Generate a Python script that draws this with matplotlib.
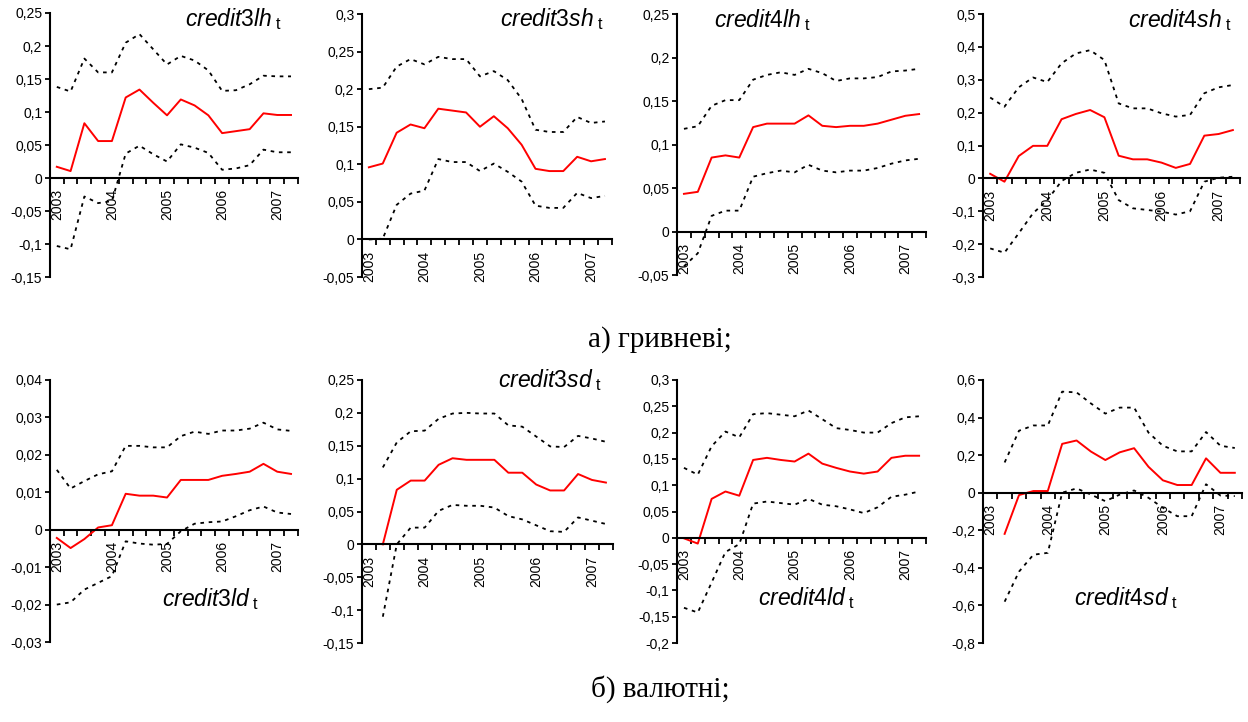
# -*- coding: utf-8 -*-
"""
Impulse responses of credit indicators (hryvnia and foreign currency),
2003Q1 - 2007Q2, red = response, dotted = confidence bands
"""

# %% [1] Import libraries
import numpy as np
import matplotlib.pyplot as plt
import matplotlib.ticker as mticker

plt.rcParams['font.family'] = ['Liberation Sans', 'DejaVu Sans']
plt.rcParams['axes.unicode_minus'] = False
plt.rcParams['mathtext.fontset'] = 'custom'
plt.rcParams['mathtext.it'] = 'Liberation Sans:italic'
plt.rcParams['mathtext.rm'] = 'Liberation Sans'

nan = np.nan

# %% [2] Data (quarterly, 2003Q1 .. 2007Q2)
quarters = [f"{y}Q{q}" for y in range(2003, 2008) for q in range(1, 5)][:18]
year_labels = ['2003', '2004', '2005', '2006', '2007']

# --- гривневі ---
red_3lh = [0.017, 0.0105, 0.083, 0.056, 0.056, 0.122, 0.134, 0.114, 0.095, 0.119, 0.110, 0.095, 0.068, 0.071, 0.074, 0.098, 0.0955, 0.0955]
up_3lh = [0.138, 0.131, 0.181, 0.160, 0.160, 0.205, 0.218, 0.195, 0.172, 0.185, 0.178, 0.163, 0.132, 0.133, 0.142, 0.155, 0.154, 0.154]
lo_3lh = [-0.103, -0.108, -0.028, -0.038, -0.035, 0.037, 0.049, 0.036, 0.025, 0.051, 0.046, 0.038, 0.0125, 0.0145, 0.0195, 0.043, 0.039, 0.039]

red_3sh = [0.096, 0.101, 0.142, 0.153, 0.148, 0.174, 0.1715, 0.169, 0.150, 0.164, 0.148, 0.126, 0.094, 0.091, 0.091, 0.110, 0.104, 0.107]
up_3sh = [0.200, 0.202, 0.230, 0.240, 0.233, 0.243, 0.240, 0.240, 0.217, 0.224, 0.212, 0.187, 0.146, 0.143, 0.143, 0.163, 0.155, 0.157]
lo_3sh = [0.0, 0.001, 0.046, 0.061, 0.065, 0.107, 0.103, 0.103, 0.091, 0.101, 0.090, 0.077, 0.045, 0.042, 0.042, 0.062, 0.055, 0.058]

red_4lh = [0.0433, 0.0456, 0.085, 0.0875, 0.085, 0.120, 0.124, 0.124, 0.124, 0.1335, 0.1215, 0.120, 0.1215, 0.1215, 0.124, 0.1285, 0.133, 0.135]
up_4lh = [0.118, 0.121, 0.1445, 0.151, 0.151, 0.1745, 0.180, 0.183, 0.180, 0.187, 0.182, 0.173, 0.176, 0.176, 0.1775, 0.184, 0.185, 0.187]
lo_4lh = [-0.04, -0.025, 0.018, 0.024, 0.024, 0.063, 0.067, 0.070, 0.068, 0.0767, 0.070, 0.068, 0.070, 0.070, 0.073, 0.078, 0.0817, 0.0836]

red_4sh = [0.014, -0.010, 0.068, 0.099, 0.099, 0.180, 0.196, 0.208, 0.186, 0.069, 0.058, 0.058, 0.048, 0.032, 0.044, 0.130, 0.135, 0.147]
up_4sh = [0.246, 0.218, 0.277, 0.307, 0.293, 0.350, 0.380, 0.390, 0.360, 0.228, 0.213, 0.213, 0.198, 0.188, 0.193, 0.259, 0.277, 0.284]
lo_4sh = [-0.213, -0.226, -0.167, -0.106, -0.066, -0.008, 0.017, 0.027, 0.017, -0.066, -0.091, -0.096, -0.101, -0.110, -0.100, -0.010, 0.002, 0.005]

# --- валютні ---
red_3ld = [-0.0022, -0.0049, -0.0025, 0.0006, 0.0012, 0.0096, 0.0091, 0.0091, 0.0086, 0.0133, 0.0133, 0.0133, 0.0144, 0.0149, 0.0155, 0.0176, 0.0155, 0.0149]
up_3ld = [0.016, 0.011, 0.013, 0.0148, 0.0156, 0.0224, 0.0224, 0.022, 0.022, 0.025, 0.0262, 0.0256, 0.0265, 0.0265, 0.027, 0.0286, 0.0268, 0.0264]
lo_3ld = [-0.020, -0.0194, -0.016, -0.0142, -0.0124, -0.0031, -0.0037, -0.004, -0.0038, -0.0004, 0.0016, 0.0020, 0.0022, 0.0036, 0.0052, 0.0062, 0.0046, 0.0042]

red_3sd = [nan, 0.0, 0.083, 0.097, 0.097, 0.121, 0.131, 0.1286, 0.1286, 0.1286, 0.109, 0.109, 0.091, 0.082, 0.082, 0.107, 0.098, 0.094]
up_3sd = [nan, 0.117, 0.155, 0.172, 0.173, 0.191, 0.199, 0.200, 0.199, 0.199, 0.181, 0.179, 0.164, 0.149, 0.148, 0.165, 0.161, 0.156]
lo_3sd = [nan, -0.110, 0.0, 0.0255, 0.0255, 0.051, 0.060, 0.0587, 0.0587, 0.056, 0.043, 0.038, 0.029, 0.020, 0.019, 0.041, 0.036, 0.031]

red_4ld = [-0.001, -0.011, 0.074, 0.088, 0.080, 0.148, 0.152, 0.148, 0.145, 0.160, 0.141, 0.133, 0.126, 0.122, 0.126, 0.152, 0.156, 0.156]
up_4ld = [0.133, 0.120, 0.174, 0.202, 0.191, 0.235, 0.237, 0.234, 0.231, 0.242, 0.2255, 0.2085, 0.205, 0.200, 0.200, 0.218, 0.229, 0.231]
lo_4ld = [-0.133, -0.142, -0.085, -0.027, -0.012, 0.065, 0.069, 0.066, 0.063, 0.074, 0.063, 0.060, 0.054, 0.047, 0.058, 0.078, 0.082, 0.088]

red_4sd = [nan, -0.219, -0.0125, 0.009, 0.009, 0.260, 0.278, 0.219, 0.174, 0.215, 0.237, 0.138, 0.066, 0.041, 0.041, 0.183, 0.106, 0.106]
up_4sd = [nan, 0.161, 0.330, 0.358, 0.358, 0.538, 0.534, 0.475, 0.421, 0.453, 0.453, 0.320, 0.250, 0.220, 0.220, 0.323, 0.250, 0.238]
lo_4sd = [nan, -0.580, -0.420, -0.330, -0.320, 0.000, 0.023, -0.010, -0.045, -0.010, 0.012, -0.027, -0.080, -0.125, -0.125, 0.045, -0.015, -0.018]

# %% [3] Panel settings: name, data, y ticks, axes rect (fig fraction), title pos (axes fraction)
panels = [
    ('credit3lh', red_3lh, up_3lh, lo_3lh, np.arange(-0.15, 0.2501, 0.05), [0.040, 0.6163, 0.1987, 0.3657], (0.544, 0.950)),
    ('credit3sh', red_3sh, up_3sh, lo_3sh, np.arange(-0.05, 0.3001, 0.05), [0.290, 0.6163, 0.2003, 0.3643], (0.552, 0.954)),
    ('credit4lh', red_4lh, up_4lh, lo_4lh, np.arange(-0.05, 0.2501, 0.05), [0.5425, 0.6191, 0.1995, 0.3615], (0.149, 0.950)),
    ('credit4sh', red_4sh, up_4sh, lo_4sh, np.arange(-0.3, 0.5001, 0.1), [0.7877, 0.6163, 0.2059, 0.3643], (0.564, 0.950)),
    ('credit3ld', red_3ld, up_3ld, lo_3ld, np.arange(-0.03, 0.04001, 0.01), [0.040, 0.1108, 0.1987, 0.3629], (0.452, 0.137)),
    ('credit3sd', red_3sd, up_3sd, lo_3sd, np.arange(-0.15, 0.2501, 0.05), [0.290, 0.1094, 0.2011, 0.3643], (0.544, 0.973)),
    ('credit4ld', red_4ld, up_4ld, lo_4ld, np.arange(-0.2, 0.3001, 0.05), [0.5425, 0.1094, 0.1995, 0.3643], (0.325, 0.144)),
    ('credit4sd', red_4sd, up_4sd, lo_4sd, np.arange(-0.8, 0.6001, 0.2), [0.7877, 0.1094, 0.2075, 0.3643], (0.350, 0.144)),
]


def comma_fmt(v, pos):
    v = round(v, 4)
    if abs(v) < 1e-9:
        return '0'
    return f"{v:g}".replace('.', ',')


# %% [4] Plot
fig = plt.figure(figsize=(12.48, 7.22), dpi=100)
x = np.arange(len(quarters))

for name, red, up, lo, yticks, rect, tpos in panels:
    ax = fig.add_axes(rect)
    ax.plot(x, up, color='black', lw=1.3, linestyle=(0, (2, 2.6)))
    ax.plot(x, lo, color='black', lw=1.3, linestyle=(0, (2, 2.6)))
    ax.plot(x, red, color='#ff0000', lw=1.4)

    ax.set_xlim(-0.5, len(quarters) - 0.5)
    ax.set_ylim(yticks[0], yticks[-1])
    ax.set_yticks(yticks)
    ax.yaxis.set_major_formatter(mticker.FuncFormatter(comma_fmt))

    # category axis: labels on years, ticks between quarters
    ax.set_xticks(x[::4], year_labels)
    ax.set_xticks(np.arange(-0.5, len(quarters), 1.0), minor=True)
    ax.tick_params(axis='x', which='major', length=0, pad=8, labelsize=10, labelrotation=90)
    ax.tick_params(axis='x', which='minor', length=4, width=1.3, direction='out')
    ax.tick_params(axis='y', length=3.5, width=1.3, labelsize=10, pad=2)

    ax.spines['bottom'].set_position(('data', 0))
    ax.spines['top'].set_visible(False)
    ax.spines['right'].set_visible(False)
    ax.spines['left'].set_linewidth(1.5)
    ax.spines['bottom'].set_linewidth(1.5)
    ax.patch.set_visible(False)

    ax.text(tpos[0], tpos[1], rf'$\mathit{{{name}}}_{{\ \mathrm{{t}}}}$', transform=ax.transAxes,
            ha='left', va='baseline', fontsize=16.5)

fig.text(0.529, 0.530, 'а) гривневі;', ha='center', va='center', fontsize=21, family='Liberation Serif')
fig.text(0.529, 0.045, 'б) валютні;', ha='center', va='center', fontsize=21, family='Liberation Serif')

plt.savefig('out.png', dpi=100)
